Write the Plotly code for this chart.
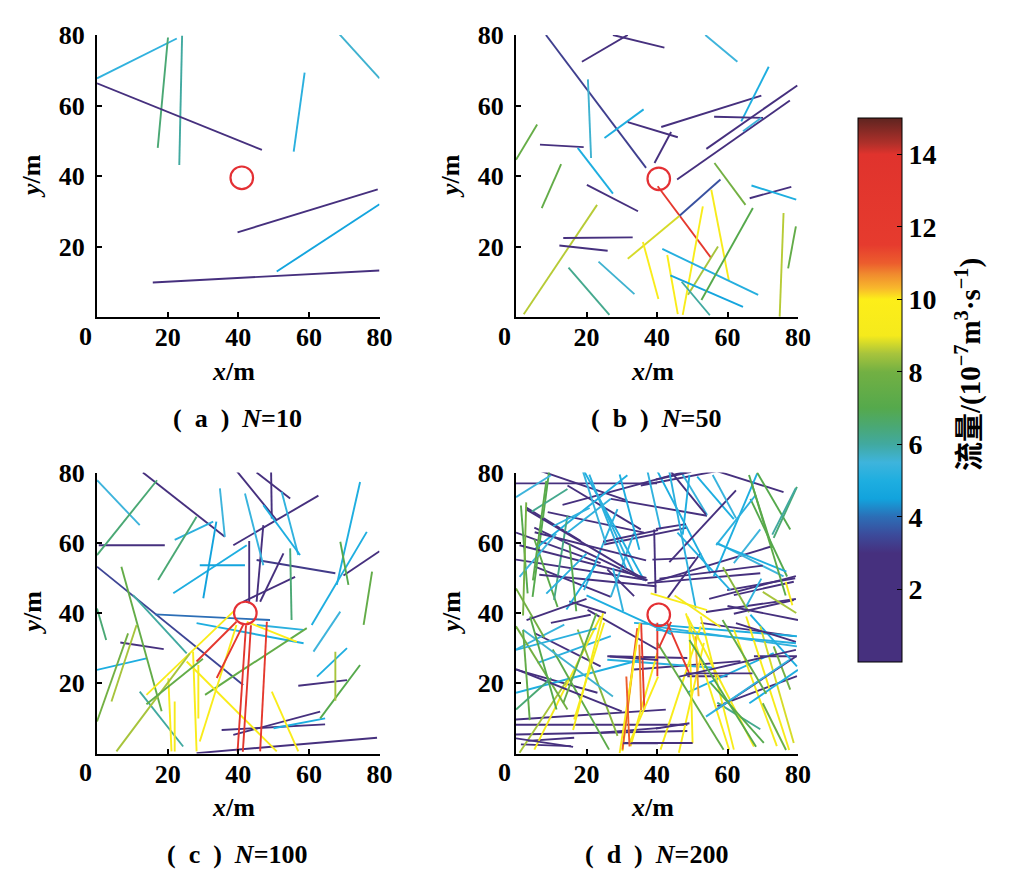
import plotly.graph_objects as go
from plotly.colors import sample_colorscale

# flow colour scale (10^-7 m3/s), jet-like as in the reference colorbar
FLOW_MIN, FLOW_MAX = 0, 15
JET = [
    [0.000, "rgb(70,48,126)"], [0.200, "rgb(70,48,126)"],
    [0.233, "rgb(60,74,154)"], [0.267, "rgb(44,110,182)"],
    [0.300, "rgb(18,163,221)"], [0.333, "rgb(30,174,224)"],
    [0.367, "rgb(62,180,220)"], [0.400, "rgb(65,169,160)"],
    [0.433, "rgb(74,168,116)"], [0.467, "rgb(85,169,76)"],
    [0.533, "rgb(114,176,67)"], [0.567, "rgb(168,196,60)"],
    [0.600, "rgb(245,234,28)"], [0.667, "rgb(253,238,25)"],
    [0.687, "rgb(248,184,44)"], [0.713, "rgb(240,138,46)"],
    [0.733, "rgb(236,93,45)"], [0.767, "rgb(230,59,46)"],
    [0.933, "rgb(224,51,45)"], [0.953, "rgb(176,48,42)"],
    [1.000, "rgb(94,36,32)"],
]

# fracture segments (x0, y0, x1, y1) in metres and their flow
A_ENDS = [(0, 67.7, 22.6, 79), (17.2, 48, 20.1, 79.3), (23.3, 43.1, 24.1, 79.8),
          (0, 66.3, 46.7, 47.4), (55.7, 46.9, 58.8, 69.3), (68.4, 80.5, 80, 67.7),
          (39.8, 24, 79.5, 36.2), (50.9, 12.9, 80, 32), (15.8, 9.8, 80, 13.2)]
A_FLOW = [5.3, 6.5, 6.0, 2.2, 5.2, 5.6, 2.0, 4.6, 2.1]

B_ENDS = [(8.5, 80, 36.9, 42.3), (18.7, 72.4, 31.7, 80), (27.5, 80, 42.1, 76.4),
          (53.7, 80, 62.8, 72.4), (20.4, 67.4, 21.3, 45.1), (25.1, 50.8, 36.2, 58.9),
          (31.7, 55.3, 45.9, 51), (39.3, 43.7, 44, 52.5), (41.2, 53.9, 69.6, 62.8),
          (45.7, 39, 77.7, 61.4), (54, 47.7, 79.8, 65.7), (63.9, 55.5, 71.7, 71),
          (56.2, 56.8, 70.1, 56.5), (64.4, 52.7, 69.6, 56.5), (0, 44.6, 6, 54.6),
          (6.8, 48.9, 19.2, 48.2), (17.5, 48, 27.5, 35), (7.3, 30.9, 12.8, 43.4),
          (20.1, 37.5, 34.6, 30), (40.2, 37.1, 55.4, 16.7), (2.2, 0.8, 23, 31.8),
          (13.4, 22.4, 33.1, 22.6), (12.3, 20.3, 26, 18.8), (14.9, 14, 26.5, 0.6),
          (23.4, 15.7, 33.6, 6.5), (31.7, 16.5, 46.4, 28.7), (46.4, 28.7, 58, 39),
          (36, 21.3, 40.4, 5.1), (42.9, 17.6, 45.9, 0.8), (47.3, 0.6, 53, 31.4),
          (48.8, 6.3, 57.3, 20), (55.4, 36.1, 60.4, 10.3), (41.5, 19.3, 68.7, 6.3),
          (43.8, 11.8, 64.4, 2.9), (52.6, 4.8, 67.2, 30.9), (56.3, 43.7, 65.1, 31.8),
          (66.3, 33.7, 78.1, 36.9), (66.8, 37.3, 79.5, 33.3), (74.8, 0.1, 75.9, 29.5),
          (77.2, 13.8, 79.4, 25.7), (47, 10, 55, 0.5)]
B_FLOW = [3.3, 2.5, 2.2, 5.5, 5.6, 5.0, 2.2, 2.6, 2.1,
          2.0, 2.2, 5.0, 3.0, 5.5, 7.6, 2.5, 5.0, 7.5,
          2.5, 12.0, 8.6, 2.1, 2.5, 6.2, 5.6, 8.8, 3.6,
          9.5, 9.6, 9.4, 8.5, 9.2, 5.1, 4.6, 7.0, 8.0,
          2.5, 5.0, 8.6, 7.5, 6.0]

C_ENDS = [(13, 80, 36.2, 61.7), (45.2, 80, 54.7, 72.6), (49.3, 80.5, 49.5, 66.9),
          (39.5, 80.5, 50.9, 66.4), (38.6, 59.3, 62.7, 73.4), (0.5, 59.3, 19.2, 59.3),
          (0, 53.2, 41.4, 19.5), (45.2, 55.1, 67.5, 51.3), (43.1, 60.5, 43.1, 42.7),
          (41.4, 43.2, 56.1, 50.3), (46.2, 43.2, 52.8, 57), (45.2, 43.2, 47.1, 65),
          (69.8, 50.7, 80, 57.6), (16.4, 39.6, 49, 38), (6.6, 31.6, 18.9, 29.7),
          (57, 19.3, 70.8, 20.9), (35.3, 6.7, 64.6, 8.3), (38.6, 5.3, 63.2, 11.9),
          (28.2, 0.1, 79.3, 4.5), (0, 77.8, 12.1, 65), (34.8, 75.5, 36.2, 61.7),
          (41.9, 74, 47.1, 53.6), (52.3, 74.5, 57, 56.5), (47.1, 70.7, 57.5, 56.5),
          (74.5, 77.3, 67.9, 48), (60.8, 36.6, 76.4, 63.1), (22, 60.8, 32.9, 66),
          (21.6, 45.6, 42.4, 59.3), (29.1, 53.6, 41.9, 53.6), (30.1, 44.2, 33.8, 66),
          (0, 23.8, 14, 27.1), (28.2, 37.1, 58.5, 31.4), (45.2, 36.6, 58.5, 35.2),
          (62.3, 21.9, 70.8, 30), (61.3, 29, 68.9, 40.4), (50, 7.2, 64.6, 10),
          (10.2, 45.1, 25.4, 28.5), (0, 56.5, 17, 77.8), (6.9, 53.2, 18.3, 12),
          (17.3, 49.4, 28.2, 67.4), (0, 41.3, 2.6, 32.3), (68.9, 60.3, 71.2, 48),
          (77.9, 51.8, 75.5, 36.6), (54.7, 58.4, 55.1, 38), (63.2, 10, 74.5, 25.2),
          (12.1, 17.6, 24.4, 2), (0, 9.1, 8.8, 34.2), (30.6, 16.7, 40.5, 23.3),
          (40.5, 23.3, 59.4, 35.7), (14, 16.7, 38.6, 40.4), (20.2, 21.4, 21.1, 0.6),
          (22, 14.8, 22, 0.6), (27.2, 29, 28.2, 0.6), (28.7, 25.2, 28.7, 10),
          (5.5, 0.6, 26.3, 28.5), (39.5, 36.6, 29.1, 3.4), (25.4, 26.2, 50.9, 0.6),
          (49.5, 17.6, 57, 0.6), (42.4, 37.5, 56.6, 31.8), (4.1, 14.8, 11.2, 36.6),
          (67.5, 29, 67.5, 15), (39.5, 37.5, 28.2, 26.2), (42.2, 36.5, 39.8, 0.5),
          (43.6, 36.5, 41.3, 0.5), (48.1, 37.5, 46.2, 0.6), (41.4, 36.6, 33.9, 21.5),
          (14, 14, 30, 27)]
C_FLOW = [2.5, 2.2, 2.5, 2.6, 2.6, 2.4, 3.4, 3.2, 2.5,
          3.0, 3.0, 2.8, 2.5, 4.0, 2.5, 2.5, 2.5, 3.0,
          2.5, 5.5, 5.5, 5.4, 5.3, 5.0, 5.0, 5.0, 5.2,
          5.0, 4.6, 4.5, 5.0, 5.0, 5.2, 5.0, 5.5, 5.0,
          6.0, 6.5, 7.5, 6.5, 6.5, 7.0, 7.5, 6.5, 7.0,
          6.0, 8.0, 7.5, 7.5, 9.5, 9.5, 9.0, 9.5, 9.5,
          8.5, 9.5, 9.5, 9.5, 10.0, 8.5, 8.5, 12.5, 13.0,
          13.0, 12.0, 12.5, 7.5]

D_ENDS = [(0, 76.9, 40, 76.9), (7.1, 80.4, 31.6, 72), (13.2, 70.8, 48.6, 80.4),
          (35.4, 76.3, 57, 80.4), (57, 80.4, 75.9, 74.4), (2.8, 70.1, 18.4, 60.5),
          (5.2, 64.3, 36.3, 49.4), (0, 62.9, 24, 54.2), (0, 55.2, 37.3, 49.4),
          (25, 59.5, 48.6, 64.3), (9, 68.7, 36.3, 62.9), (38.7, 55.2, 50.9, 55.7),
          (39.2, 63.8, 39.6, 45.6), (37.3, 48.5, 69.3, 51.3), (39.6, 49, 72.6, 59),
          (59.9, 46.5, 79.2, 49.9), (61.8, 45.1, 78.8, 48.9), (61.8, 39.8, 78.8, 43.7),
          (5.2, 53.3, 26.9, 44.6), (26.9, 72.5, 54.2, 67.7), (14.6, 76.3, 35.4, 63.8),
          (25.9, 52.4, 33.5, 44.8), (42.9, 44.1, 52.4, 57.1), (9.4, 80.4, 4.7, 44.6),
          (0, 73, 9.9, 79.2), (19.3, 80.4, 36.3, 49.4), (23, 74, 33.5, 51),
          (37.3, 80.4, 41, 63.8), (40.1, 80.4, 55.2, 51.3), (46.7, 80.4, 54.2, 67.9),
          (51.4, 78.8, 61.8, 66.7), (68.4, 79.7, 56.1, 50.4), (57, 60, 75.9, 50.4),
          (68.4, 80, 77.8, 63.8), (79.7, 75.9, 73.1, 61.4), (14.6, 62.9, 26.9, 72.5),
          (5.2, 58.1, 31.6, 79.2), (19.3, 46.5, 28.8, 69.6), (26.9, 44.6, 33.5, 62.9),
          (45.8, 62.9, 60.8, 46.5), (61.8, 54.2, 69.3, 63.8), (4.2, 68.7, 14.6, 75.3),
          (1.4, 70.6, 3.3, 45.6), (5.2, 61, 11.8, 41.7), (66.5, 72.5, 76.9, 50.4),
          (14.6, 67.7, 10.8, 43.7),
          (2.9, 69.5, 37, 49.2), (5.3, 63, 36.9, 55), (1, 59.3, 37, 50),
          (24.7, 60.3, 40.3, 63.6), (6.6, 50.9, 39.8, 47.6), (15.1, 43.3, 25.5, 40),
          (20.8, 79.4, 31.2, 52.8), (19, 80.3, 25.5, 59.8), (29.4, 79.4, 35, 58),
          (10.5, 64.7, 20.9, 69.9), (1, 50.3, 11.4, 62.6), (8.6, 45.5, 20, 56.9),
          (14.3, 41, 22.8, 54), (27.5, 52.8, 30.4, 40.5), (2.9, 71.5, 2, 39.3),
          (8.6, 77.6, 4.8, 49.3), (15.2, 59.5, 17.1, 40.5),
          (39.7, 78, 49.7, 80.2), (44, 80.2, 53.9, 68), (39.7, 63.9, 48.2, 65.3),
          (43.5, 54.5, 62.4, 74.9), (40.7, 49.8, 70, 53.5), (54.8, 44, 79.4, 50.5),
          (53.9, 40.3, 79.4, 44), (43.5, 80.2, 51, 41.3), (49.2, 79.3, 47.3, 62.3),
          (55.8, 79.3, 62.4, 67), (56.8, 59.8, 76.7, 51.8), (56.8, 59.3, 68, 73.6),
          (65, 41.3, 69.6, 49.8), (66.1, 79.3, 72.7, 58.5), (67, 76.5, 76.5, 45),
          (79.4, 75.6, 72.7, 62.3), (58.7, 53, 66.1, 40.2), (76.5, 48.9, 78.4, 42.2),
          (0, 8.2, 48.6, 8.2), (0, 5.4, 48.6, 6.4), (0, 9.7, 42.5, 12.5),
          (1.4, 2.6, 15.6, 2.1), (30.7, 3, 50, 3), (3.3, 3.6, 16.5, 4.5),
          (24, 5.9, 41, 7.3), (5.2, 34.3, 24, 24.8), (0, 23.9, 23.1, 17.3),
          (20.3, 40.9, 40.1, 29.6), (25.9, 27.7, 48.6, 27.2), (33.5, 23.9, 63.7, 26.3),
          (48.6, 22, 60, 22), (57.1, 13.5, 79.7, 22), (67.5, 27.7, 79.7, 27.7),
          (52.4, 37.2, 78.8, 33.4), (9.9, 37.2, 21.2, 39.5),
          (0, 17.3, 35.4, 26.7), (6.1, 25.8, 26.9, 33.4), (33.5, 37.2, 79.7, 33.4),
          (39.2, 36.2, 79.7, 30.5), (48.6, 17.3, 73.1, 28.6), (0, 29.6, 13.7, 36.7),
          (25.9, 26.7, 56.1, 24.4), (57.1, 14.5, 69.3, 6.9), (66.5, 39.5, 79.7, 24.8),
          (1, 0.2, 14.6, 21), (5.2, 1.1, 24, 39), (16.5, 9.7, 25, 37.2),
          (30.2, 0.7, 34.4, 34.3), (32.5, 2.1, 40.1, 28.6), (41, 1.1, 52.4, 36.2),
          (46.2, 0.2, 53.3, 31.5), (48.6, 39, 67.5, 2), (52.4, 39, 61.8, 1.1),
          (61.8, 35.3, 74, 2.1), (69.3, 36.2, 78.8, 3), (73.1, 30.5, 77.8, 18.2),
          (0, 36.2, 14.6, 12.5), (17.5, 35.3, 28.8, 5), (40.1, 31.5, 58.9, 1.1),
          (10.4, 29.6, 26.4, 1.1), (55.2, 20.1, 70.3, 3), (34.4, 35.7, 30.2, 1.1),
          (40.1, 37.2, 40.1, 22), (42.9, 37.2, 49.5, 22), (35.5, 37, 36.4, 12.5),
          (50.9, 33.4, 51.8, 16.3), (38.2, 45.6, 54.2, 40.8), (0, 47, 8, 33),
          (45, 45, 58, 36), (70, 46, 79.5, 40), (20, 45, 44, 34),
          (60, 42, 80, 38), (3, 38, 20, 44),
          (0, 4.3, 16.2, 1.9), (30.4, 2.9, 40.3, 2.9), (0, 24, 30, 12),
          (26.6, 27.6, 40.3, 26.6), (0, 29.5, 22.8, 35.6), (2, 35.2, 27.5, 16.2),
          (2, 35.2, 3.9, 9.5), (4, 39, 11.5, 12.5), (0, 12.5, 10, 21.5),
          (13.4, 14.3, 22.8, 39.9), (16.2, 6.7, 24.7, 39.9), (29.4, 0.1, 35.1, 37.1),
          (32.2, 3, 40.3, 21.9), (31.3, 21.9, 32.2, 2), (35, 31, 35.5, 12.4),
          (48.2, 39.9, 60.5, 1), (65.3, 39, 77.5, 1), (49.2, 36.1, 50.1, 2.9),
          (46.3, 21.9, 79.4, 29.5), (39.7, 7.1, 49.2, 8.6), (39.7, 3, 50.1, 3),
          (56.7, 12.4, 79.4, 27.6), (62.4, 37.1, 79.4, 31.8), (48.2, 22.8, 67.1, 22.8),
          (39.7, 35.2, 79.4, 31.4), (53.9, 10.5, 77.5, 26.6), (66.2, 14.3, 80, 23.8),
          (49.2, 32.3, 68.1, 1.9), (58.6, 38, 71, 17), (70, 14.3, 76.6, 1),
          (44, 37.5, 40.5, 30)]
D_FLOW = [2.4, 2.5, 2.5, 2.6, 2.5, 2.4, 2.5, 2.6, 2.5,
          2.5, 2.7, 2.5, 2.8, 2.5, 2.5, 2.5, 2.4, 2.5,
          2.6, 2.5, 2.6, 2.8, 2.7, 7.0, 5.5, 5.0, 5.2,
          5.3, 5.0, 5.4, 5.0, 5.0, 5.5, 7.0, 6.5, 5.3,
          5.0, 5.2, 5.4, 5.1, 5.5, 6.2, 7.0, 7.2, 7.0,
          6.3,
          2.5, 2.6, 2.4, 2.6, 2.5, 2.7, 5.2, 5.4, 5.0,
          5.3, 5.5, 5.2, 5.0, 5.3, 8.0, 7.2, 7.0,
          2.5, 2.6, 2.5, 2.6, 2.5, 2.4, 2.6, 5.2, 5.0,
          5.4, 5.0, 5.2, 5.3, 7.0, 7.2, 6.0, 8.2, 9.3,
          2.2, 2.3, 2.5, 2.2, 2.3, 2.5, 2.6, 2.5, 2.5,
          2.5, 2.8, 2.6, 2.8, 2.5, 2.6, 2.5, 2.6,
          5.0, 5.2, 5.0, 5.3, 5.0, 5.4, 5.2, 6.2, 5.0,
          8.5, 9.0, 9.3, 9.5, 9.6, 9.4, 9.5, 9.0, 9.2,
          9.0, 8.8, 8.0, 8.0, 8.2, 7.5, 7.2, 7.0, 11.0,
          12.5, 12.0, 11.5, 10.5, 9.5, 8.0, 9.0, 8.5, 5.0,
          2.5, 2.6,
          2.3, 2.2, 2.5, 2.6, 5.2, 5.6, 7.5, 7.0, 6.5,
          7.5, 9.3, 9.5, 9.6, 11.0, 10.8,
          9.4, 9.2, 9.6, 2.5, 2.4, 2.3, 2.6, 2.5, 2.7,
          5.1, 5.3, 5.0, 7.0, 7.5, 7.8, 12.5]

# panel tag, fracture count, segments, flows, well centre
PANELS = [
    ("a", 10, A_ENDS, A_FLOW, (41, 39.5)),
    ("b", 50, B_ENDS, B_FLOW, (40.5, 39.2)),
    ("c", 100, C_ENDS, C_FLOW, (42, 40)),
    ("d", 200, D_ENDS, D_FLOW, (40.5, 39.5)),
]
WELL_R = 3.2

W, H = 1015, 883
OFF = 8  # the page body margin shifts the plot by this many pixels


def px(x):
    return (x - OFF) / W


def py(y):
    return 1 - (y - OFF) / H


X_DOM = [[px(97), px(379.5)], [px(516), px(798)]]
Y_DOM = [[py(317), py(35)], [py(753.5), py(472.5)]]

SERIF = "Liberation Serif, Noto Sans CJK SC"
fig = go.Figure()
shapes, annotations = [], []

for i, (tag, n, ends, flow, well) in enumerate(PANELS):
    row, col = divmod(i, 2)
    k = "" if i == 0 else str(i + 1)
    colors = sample_colorscale(JET, [(q - FLOW_MIN) / (FLOW_MAX - FLOW_MIN) for q in flow])
    for (x0, y0, x1, y1), c in zip(ends, colors):
        fig.add_trace(go.Scatter(x=[x0, x1], y=[y0, y1], mode="lines",
                                 line=dict(color=c, width=1.9), hoverinfo="skip",
                                 showlegend=False, xaxis="x" + k, yaxis="y" + k))
    axis_x = dict(domain=X_DOM[col], range=[0, 80], anchor="y" + k,
                  tickvals=[20, 40, 60, 80], ticklabelstandoff=-4)
    axis_y = dict(domain=Y_DOM[row], range=[0, 80], anchor="x" + k,
                  tickvals=[20, 40, 60, 80], ticklabelstandoff=5)
    for ax in (axis_x, axis_y):
        ax.update(showline=True, linecolor="black", linewidth=2, ticks="inside",
                  ticklen=5, tickwidth=1.5, tickcolor="black", showgrid=False,
                  zeroline=False, fixedrange=True, automargin=False,
                  tickfont=dict(family=SERIF, size=26, color="black", weight="bold"))
    fig.update_layout({"xaxis" + k: axis_x, "yaxis" + k: axis_y})

    cx, cy = well
    shapes.append(dict(type="circle", xref="x" + k, yref="y" + k,
                       x0=cx - WELL_R, x1=cx + WELL_R, y0=cy - WELL_R, y1=cy + WELL_R,
                       line=dict(color="rgb(228,48,52)", width=2.2)))

    # pixel anchors of this panel (unshifted reference coordinates)
    left = 97 if col == 0 else 516
    bottom = 317 if row == 0 else 753.5
    mid_x = left + 141
    mid_y = bottom - 141
    font = dict(family=SERIF, size=26, color="black", weight="bold")
    common = dict(xref="paper", yref="paper", showarrow=False,
                  xanchor="center", yanchor="middle")
    annotations += [
        dict(text="0", x=px(left - 12), y=py(bottom + 19), font=font, **common),
        dict(text="<i>x</i>/m", x=px(mid_x - 5), y=py(bottom + 54), font=font, **common),
        dict(text="<i>y</i>/m", x=px(left - 65), y=py(mid_y), textangle=-90,
             font=font, **common),
        dict(text=f"(\u2002{tag}\u2002)\u2002<i>N</i>={n}", x=px(mid_x - 1),
             y=py(bottom + 101), font=font, **common),
    ]

# colorbar title, set vertically beside the tick labels
annotations.append(dict(text="流量/(10<sup>−7</sup>m<sup>3</sup>·s<sup>−1</sup>)",
                        x=px(968), y=py(365), xref="paper", yref="paper",
                        xanchor="center", yanchor="middle",
                        showarrow=False, textangle=-90,
                        font=dict(family=SERIF, size=29, color="black", weight="bold")))

# colorbar carried by an off-range dummy marker
fig.add_trace(go.Scatter(
    x=[-10], y=[-10], mode="markers", hoverinfo="skip", showlegend=False,
    marker=dict(color=[FLOW_MIN], colorscale=JET, cmin=FLOW_MIN, cmax=FLOW_MAX,
                showscale=True,
                colorbar=dict(x=px(858), xanchor="left", y=py(390), yanchor="middle",
                              len=544 / H, lenmode="fraction", thickness=44,
                              outlinewidth=1, outlinecolor="black", xpad=0, ypad=0,
                              ticks="inside", ticklen=5, tickcolor="black",
                              tickvals=[2, 4, 6, 8, 10, 12, 14],
                              tickfont=dict(family=SERIF, size=28, color="black",
                                            weight="bold")))))

fig.update_layout(template="none", width=W, height=H,
                  margin=dict(l=0, r=0, t=0, b=0, autoexpand=False),
                  paper_bgcolor="white", plot_bgcolor="white",
                  shapes=shapes, annotations=annotations)
fig.write_html("out.html")
